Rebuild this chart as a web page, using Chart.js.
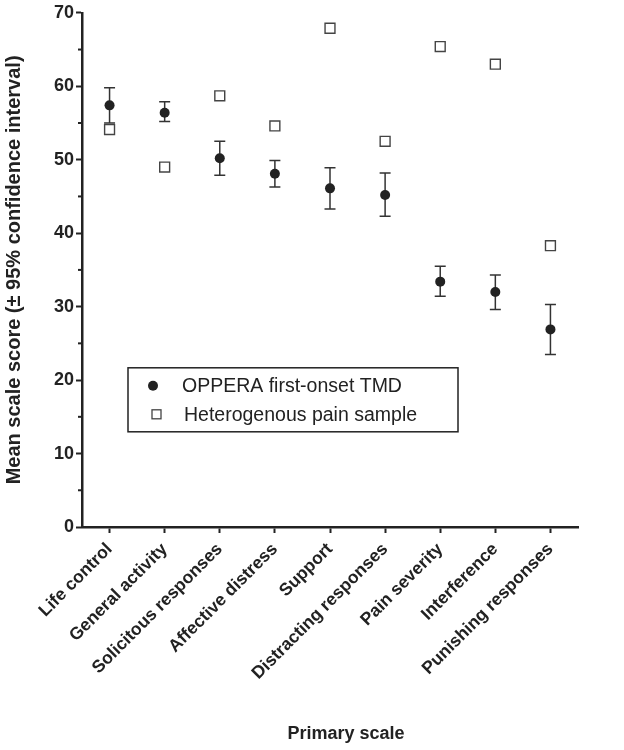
<!DOCTYPE html>
<html>
<head>
<meta charset="utf-8">
<script src="https://cdn.jsdelivr.net/npm/chart.js@4.4.0/dist/chart.umd.min.js"></script>
<style>
  html, body { margin: 0; padding: 0; background: #fff; }
  #wrap { width: 624px; height: 750px; }
</style>
</head>
<body>
<div id="wrap"><canvas id="chart" width="624" height="750"></canvas></div>
<script>
// --- data ---
const scales = ['Life control', 'General activity', 'Solicitous responses', 'Affective distress',
  'Support', 'Distracting responses', 'Pain severity', 'Interference', 'Punishing responses'];
const opperaMean = [57.4, 56.4, 50.2, 48.1, 46.1, 45.2, 33.4, 32.0, 26.9];
const opperaLow  = [55.0, 55.2, 47.9, 46.3, 43.3, 42.3, 31.4, 29.6, 23.5];
const opperaHigh = [59.8, 57.9, 52.5, 49.9, 48.9, 48.2, 35.5, 34.3, 30.3];
const heteroMean = [54.1, 49.0, 58.7, 54.6, 67.9, 52.5, 65.4, 63.0, 38.3];
const yTicks = [0, 10, 20, 30, 40, 50, 60, 70];

const INK = '#222';
const FONT = '"Liberation Sans", Arial, sans-serif';

// whiskers for the first series, drawn under the points
const errorBars = {
  id: 'errorBars',
  beforeDatasetsDraw(chart) {
    const meta = chart.getDatasetMeta(0);
    const y = chart.scales.y;
    const ctx = chart.ctx;
    ctx.save();
    ctx.strokeStyle = '#333';
    ctx.lineWidth = 1.5;
    meta.data.forEach((pt, i) => {
      const top = y.getPixelForValue(opperaHigh[i]);
      const bot = y.getPixelForValue(opperaLow[i]);
      ctx.beginPath();
      ctx.moveTo(pt.x, top); ctx.lineTo(pt.x, bot);
      ctx.moveTo(pt.x - 5.5, top); ctx.lineTo(pt.x + 5.5, top);
      ctx.moveTo(pt.x - 5.5, bot); ctx.lineTo(pt.x + 5.5, bot);
      ctx.stroke();
    });
    ctx.restore();
  }
};

// short minor ticks on the y axis at the half steps, plus the x title
const extras = {
  id: 'extras',
  afterDraw(chart) {
    const y = chart.scales.y;
    const a = chart.chartArea;
    const ctx = chart.ctx;
    ctx.save();
    ctx.strokeStyle = INK;
    ctx.lineWidth = 2;
    for (let i = 0; i < yTicks.length - 1; i++) {
      const py = y.getPixelForValue((yTicks[i] + yTicks[i + 1]) / 2);
      ctx.beginPath();
      ctx.moveTo(a.left - 4, py); ctx.lineTo(a.left, py);
      ctx.stroke();
    }
    ctx.fillStyle = INK;
    ctx.font = 'bold 18px ' + FONT;
    ctx.textAlign = 'center';
    ctx.textBaseline = 'middle';
    ctx.fillText('Primary scale', (a.left + a.right) / 2 + 16, 734);
    ctx.restore();
  }
};

// boxed legend sitting inside the plot
const boxLegend = {
  id: 'boxLegend',
  afterDraw(chart) {
    const a = chart.chartArea;
    const ctx = chart.ctx;
    const left = a.left + 46, top = a.top + 355, w = 330, h = 64;
    ctx.save();
    ctx.strokeStyle = INK;
    ctx.lineWidth = 1.5;
    ctx.strokeRect(left, top, w, h);
    ctx.font = '19.5px ' + FONT;
    ctx.textBaseline = 'middle';
    // filled circle
    ctx.beginPath();
    ctx.arc(left + 25, top + 18, 5, 0, Math.PI * 2);
    ctx.fillStyle = INK;
    ctx.fill();
    ctx.fillText(chart.data.datasets[0].label, left + 54, top + 19);
    // open square
    ctx.strokeStyle = '#444';
    ctx.lineWidth = 1.3;
    ctx.strokeRect(left + 24, top + 42, 9, 9);
    ctx.fillText(chart.data.datasets[1].label, left + 56, top + 48);
    ctx.restore();
  }
};

const ctx = document.getElementById('chart').getContext('2d');
new Chart(ctx, {
  type: 'line',
  data: {
    labels: scales,
    datasets: [
      {
        label: 'OPPERA first-onset TMD',
        data: opperaMean,
        showLine: false,
        pointStyle: 'circle',
        pointRadius: 5,
        pointBackgroundColor: '#222',
        pointBorderColor: '#222',
        pointBorderWidth: 0
      },
      {
        label: 'Heterogenous pain sample',
        data: heteroMean,
        showLine: false,
        pointStyle: 'rect',
        pointRadius: 7,
        pointBackgroundColor: '#fff',
        pointBorderColor: '#444',
        pointBorderWidth: 1.4
      }
    ]
  },
  options: {
    responsive: false,
    animation: false,
    devicePixelRatio: 1,
    layout: { padding: { left: 0, top: 12, right: 46, bottom: 0 } },
    plugins: {
      legend: { display: false },
      tooltip: { enabled: false }
    },
    scales: {
      x: {
        type: 'category',
        offset: true,
        afterFit(s) { s.height = 223; },
        grid: { display: true, drawOnChartArea: false, offset: false, tickLength: 6, tickWidth: 2, tickColor: INK },
        border: { display: true, color: INK, width: 2.5 },
        ticks: {
          color: INK, minRotation: 45, maxRotation: 45, padding: 6,
          font: { family: FONT, size: 17.5, weight: 'bold' }
        },
        title: { display: false }
      },
      y: {
        min: 0, max: 70,
        afterFit(s) { s.width = 82; },
        afterBuildTicks(s) { s.ticks = yTicks.map(v => ({ value: v })); },
        grid: { display: true, drawOnChartArea: false, tickLength: 6, tickWidth: 2, tickColor: INK },
        border: { display: true, color: INK, width: 2.5 },
        ticks: {
          color: INK, padding: 2,
          font: { family: FONT, size: 18, weight: 'bold' }
        },
        title: {
          display: true, text: 'Mean scale score (\u00b1 95% confidence interval)', color: INK,
          padding: { top: 2, bottom: 0 },
          font: { family: FONT, size: 20, weight: 'bold' }
        }
      }
    }
  },
  plugins: [errorBars, extras, boxLegend]
});
</script>
</body>
</html>
